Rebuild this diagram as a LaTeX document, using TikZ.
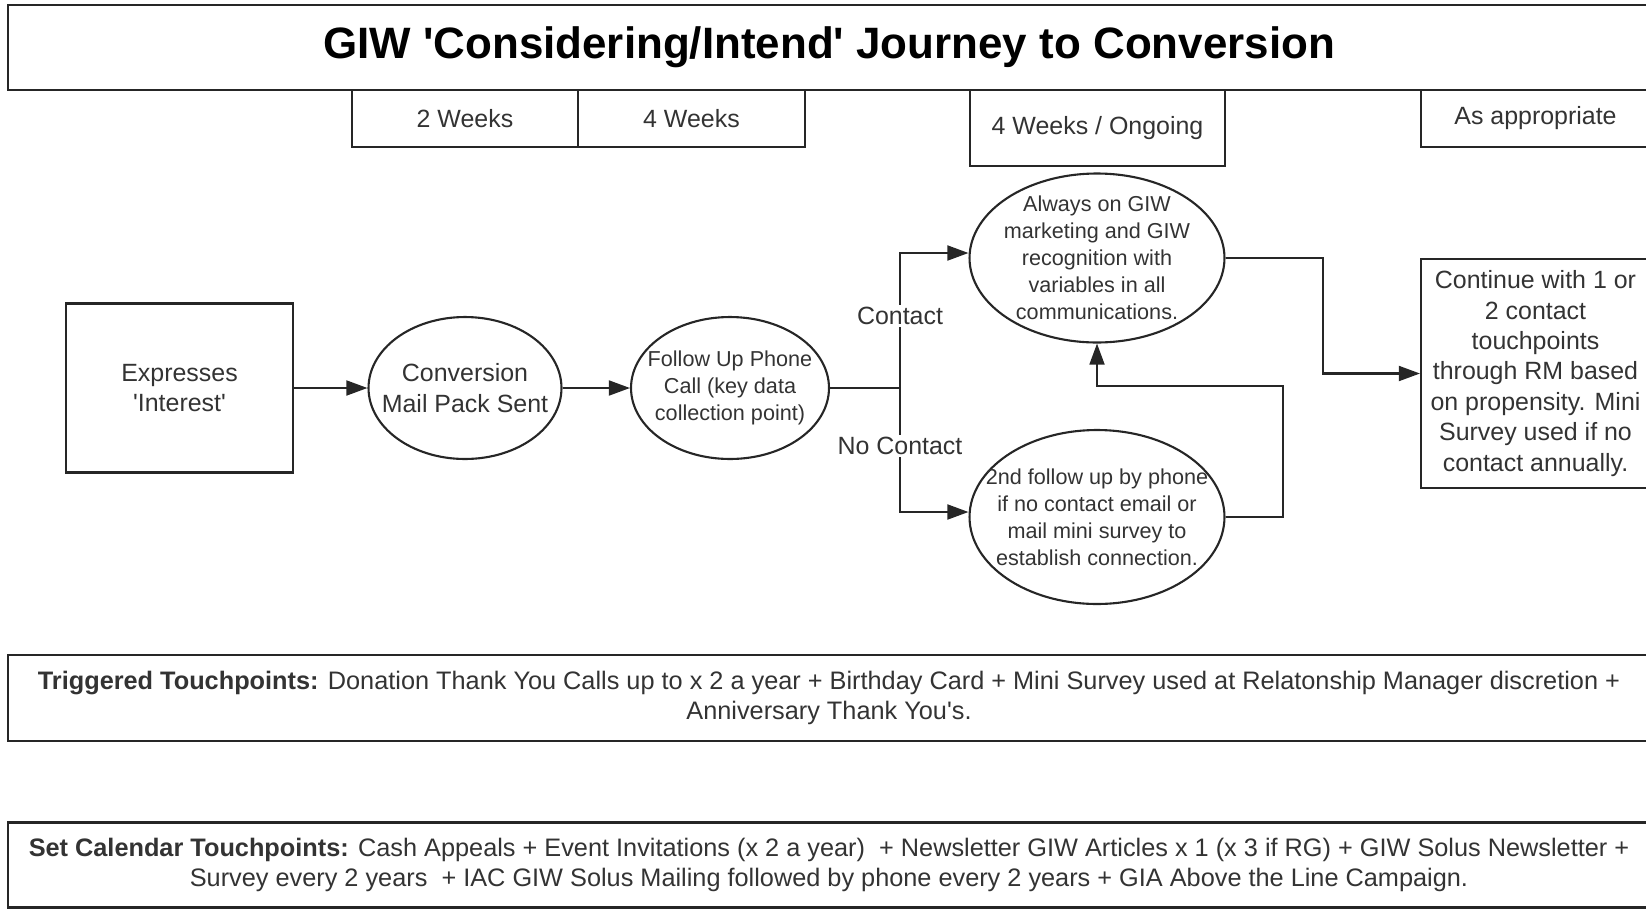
\documentclass[tikz,border=0pt]{standalone}
\usepackage{fontspec}
\setmainfont{Liberation Sans}
\usetikzlibrary{shapes.geometric,arrows.meta}
\newcommand\apos{\textquotesingle}

\begin{document}
\begin{tikzpicture}[x=0.02cm, y=-0.02cm,
        box/.style={draw=black!85, line width=1.2pt, rectangle, align=center, text=black!80, inner sep=2pt, font=\fontsize{14.2}{17.3}\selectfont},
        oval/.style={draw=black!85, line width=1.2pt, ellipse, inner sep=0pt},
        ovaltext/.style={align=center, text=black!80, font=\fontsize{12.3}{15.3}\selectfont},
        arr/.style={draw=black!85, line width=1.2pt, -{Triangle[length=12pt, width=8.5pt]}},
        link/.style={draw=black!85, line width=1.2pt},
        tag/.style={fill=white, text=black!80, inner sep=1.5pt, font=\fontsize{14.2}{17.3}\selectfont},
        wide/.style={box, minimum width=32.84cm, font=\fontsize{14.4}{17.3}\selectfont}]
    \useasboundingbox (0, 0) rectangle (1646, 910);

    \node[box, minimum width=32.84cm, minimum height=1.7cm, text=black, font=\fontsize{25}{30}\selectfont\bfseries] (title) at (829, 47.5) {GIW \apos Considering/Intend\apos{} Journey to Conversion};

    \node[box, minimum width=4.52cm, minimum height=1.14cm] (twoweeks) at (465, 118.5) {2 Weeks};
    \node[box, minimum width=4.54cm, minimum height=1.14cm] (fourweeks) at (691.5, 118.5) {4 Weeks};
    \node[box, minimum width=5.1cm, minimum height=1.52cm] (ongoing) at (1097.5, 128) {4 Weeks / Ongoing};
    \node[box, minimum width=4.58cm, minimum height=1.14cm] (appropriate) at (1535.5, 118.5) {As appropriate};

    \node[box, minimum width=4.54cm, minimum height=3.38cm] (interest) at (179.5, 388) {Expresses\\\apos Interest\apos};
    \node[oval, minimum width=3.86cm, minimum height=2.84cm, label={[ovaltext, font=\fontsize{14.2}{17.3}\selectfont]center:{Conversion\\Mail Pack Sent}}] (mailpack) at (465, 388) {};
    \node[oval, minimum width=3.96cm, minimum height=2.84cm, label={[ovaltext]center:{Follow Up Phone\\Call (key data\\collection point)}}] (phonecall) at (730, 388) {};
    \node[oval, minimum width=5.1cm, minimum height=3.38cm, label={[ovaltext]center:{Always on GIW\\marketing and GIW\\recognition with\\variables in all\\communications.}}] (always) at (1097, 258) {};
    \node[oval, minimum width=5.1cm, minimum height=3.48cm, label={[ovaltext]center:{2nd follow up by phone\\if no contact email or\\mail mini survey to\\establish connection.}}] (second) at (1097, 517) {};
    \node[box, minimum width=4.58cm, minimum height=4.58cm] (continue) at (1535.5, 373.5) {Continue with 1 or\\2 contact\\touchpoints\\through RM based\\on propensity. Mini\\Survey used if no\\contact annually.};

    \node[wide, minimum height=1.72cm] (triggered) at (829, 698) {\textbf{Triggered Touchpoints:} Donation Thank You Calls up to x 2 a year + Birthday Card + Mini Survey used at Relatonship Manager discretion +\\Anniversary Thank You\apos s.};
    \node[wide, minimum height=1.7cm] (calendar) at (829, 865) {\textbf{Set Calendar Touchpoints:} Cash Appeals + Event Invitations (x 2 a year)~ + Newsletter GIW Articles x 1 (x 3 if RG) + GIW Solus Newsletter +\\Survey every 2 years~ + IAC GIW Solus Mailing followed by phone every 2 years + GIA Above the Line Campaign.};

    \coordinate (split) at (900, 388);
    \coordinate (turn) at (1323, 300);
    \coordinate (back) at (1283, 386);

    \draw[arr] (interest) -- (mailpack);
    \draw[arr] (mailpack) -- (phonecall);
    \draw[link] (phonecall) -- (split);
    \draw[arr] (split) |- ([yshift=0.1cm]always.west);
    \draw[arr] (split) |- ([yshift=0.1cm]second.west);
    \draw[arr] (always) -| (turn) |- (continue);
    \draw[arr] (second) -| (back) -| (always);

    \node[tag] (contact) at (900, 316) {Contact};
    \node[tag] (nocontact) at (900, 446) {No Contact};
\end{tikzpicture}
\end{document}
